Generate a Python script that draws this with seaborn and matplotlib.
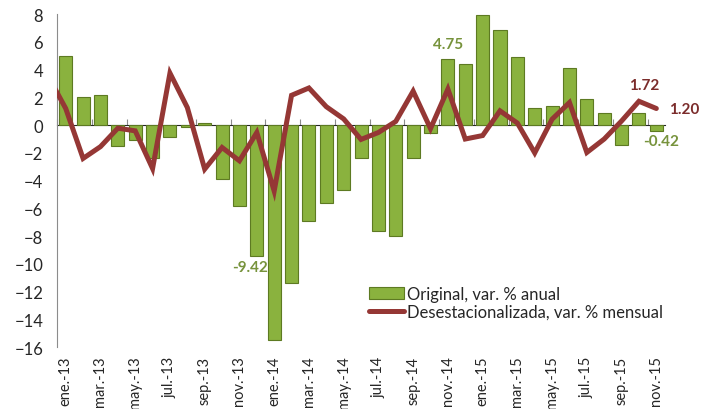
import numpy as np
import matplotlib
matplotlib.use("Agg")
import matplotlib.pyplot as plt
import seaborn as sns

# Monthly data, ene.-13 .. nov.-15
meses = ["ene.", "feb.", "mar.", "abr.", "may.", "jun.", "jul.", "ago.", "sep.", "oct.", "nov.", "dic."]
month_labels = [m + "-" + y for y in ["13", "14", "15"] for m in meses][:35]

# Original, var. % anual (bars)
original = [5.0, 2.0, 2.2, -1.5, -1.1, -2.4, -0.85, -0.1, 0.15, -3.9, -5.8, -9.42,
            -15.5, -11.4, -6.9, -5.6, -4.7, -2.4, -7.6, -8.0, -2.4, -0.6, 4.75, 4.4,
            7.95, 6.85, 4.9, 1.2, 1.4, 4.15, 1.9, 0.85, -1.4, 0.85, -0.42]

# Desestacionalizada, var. % mensual (line), starts at dic.-12 (clipped by the axis)
desest = [3.5,
          1.2, -2.4, -1.55, -0.22, -0.41, -3.13, 3.75, 1.27, -3.17, -1.61, -2.57, -0.53,
          -4.75, 2.15, 2.68, 1.33, 0.45, -1.03, -0.53, 0.27, 2.45, -0.25, 2.6, -1.0,
          -0.75, 1.03, 0.15, -2.0, 0.43, 1.63, -1.97, -1.0, 0.3, 1.72, 1.20]

green = "#8AB23E"
green_edge = "#5D7A22"
green_txt = "#77933C"
red = "#953735"
red_txt = "#7B2C2B"
gray = "#8C8C8C"

sns.set_style("white")
plt.rcParams["font.family"] = ["Lato", "DejaVu Sans"]

fig = plt.figure(figsize=(7.13, 4.10), dpi=100)
ax = fig.add_axes([0.08, 0.151, 0.8527, 0.812])

x_bar = np.arange(len(original))
x_line = np.arange(-1, len(original))

sns.barplot(x=x_bar, y=original, native_scale=True, color=green, width=0.75,
            edgecolor=green_edge, linewidth=0.8, saturation=1, errorbar=None,
            label="Original, var. % anual", ax=ax, zorder=2)
ax.plot(x_line, desest, color=red, linewidth=3.6, solid_joinstyle="miter",
        label="Desestacionalizada, var. % mensual", zorder=4)

ax.set_xlim(-0.5, 34.5)
ax.set_ylim(-16, 8)
ax.set_yticks(np.arange(-16, 9, 2))
ax.tick_params(axis="y", direction="out", length=4, color=gray, labelsize=12, pad=6)

for s in ["top", "right", "bottom"]:
    ax.spines[s].set_visible(False)
ax.spines["left"].set_color(gray)

# category labels at the bottom
ax.set_xticks(x_bar[::2])
ax.set_xticklabels(month_labels[::2], rotation=90, fontsize=10.5)
ax.tick_params(axis="x", length=0, pad=6)
ax.set_xlabel("")

# horizontal axis line at zero with ticks between categories
sec = ax.secondary_xaxis(2 / 3)
sec.set_xticks(np.arange(-0.5, 35, 2))
sec.set_xticklabels([])
sec.tick_params(axis="x", direction="out", length=4, color=gray)
sec.spines["bottom"].set_color(gray)

# data labels
ax.text(22, 5.84, "4.75", color=green_txt, fontsize=11, fontweight="bold", ha="center", va="center")
ax.text(11.62, -10.23, "-9.42", color=green_txt, fontsize=11, fontweight="bold", ha="right", va="center", zorder=1)
ax.text(34.27, -1.15, "-0.42", color=green_txt, fontsize=11, fontweight="bold", ha="center", va="center")
ax.text(33.3, 2.88, "1.72", color=red_txt, fontsize=11, fontweight="bold", ha="center", va="center")
ax.text(34.73, 1.15, "1.20", color=red_txt, fontsize=11, fontweight="bold", ha="left", va="center")

handles, labels = ax.get_legend_handles_labels()
order = [labels.index("Original, var. % anual"), labels.index("Desestacionalizada, var. % mensual")]
ax.legend([handles[i] for i in order], [labels[i] for i in order],
          loc="upper left", bbox_to_anchor=(362 / 713, 1 - 280 / 410),
          bbox_transform=fig.transFigure, frameon=False, fontsize=12,
          handlelength=2.1, handletextpad=0.2, labelspacing=0.1, borderaxespad=0)

fig.savefig("out.png", dpi=100)
